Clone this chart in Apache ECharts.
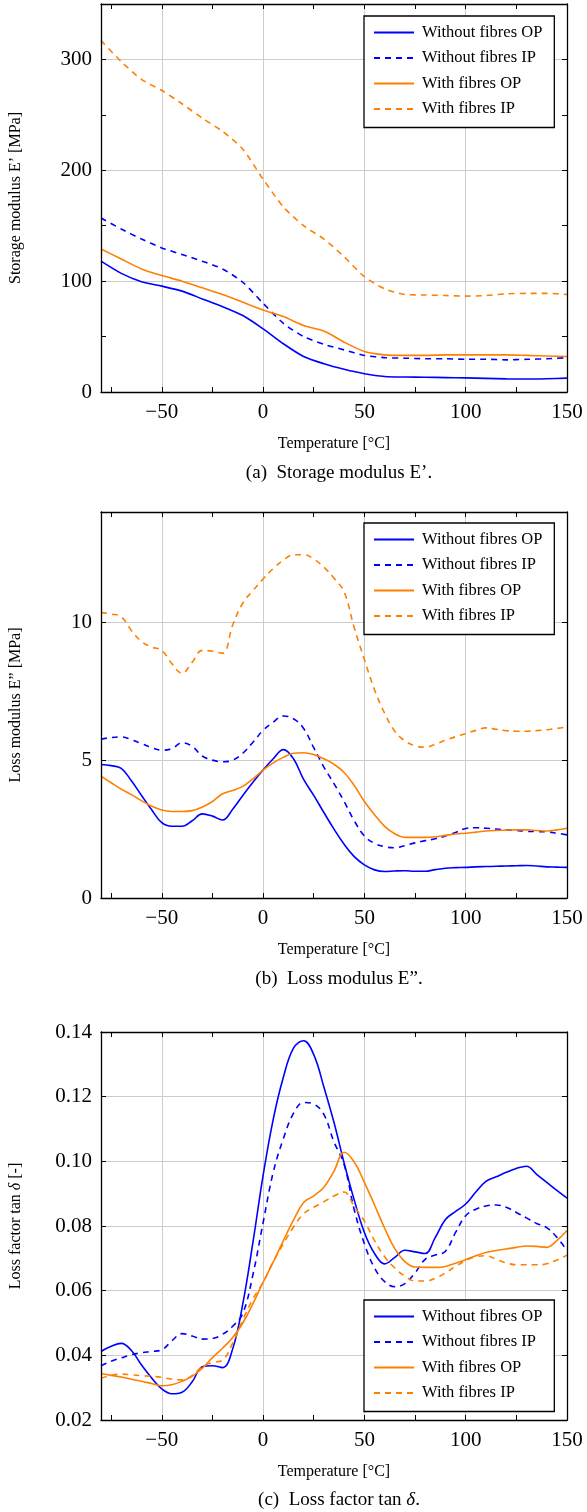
<!DOCTYPE html>
<html><head><meta charset="utf-8">
<script src="https://cdn.jsdelivr.net/npm/echarts@6/dist/echarts.min.js"></script>
<style>html,body{margin:0;padding:0;background:#fff}#c{width:587px;height:1512px}</style>
</head><body><div id="c"></div>
<script>
const seriesNames = ['Without fibres OP', 'Without fibres IP', 'With fibres OP', 'With fibres IP'];

// (a) storage modulus, temperatures every 10 °C
const tempA = [-80,-70,-60,-50,-40,-30,-20,-10,0,10,20,30,40,50,60,70,80,90,100,110,120,130,140,150];
const storageWithoutOP = [118,107,99.5,95.5,91,84,77,69,57,43.5,32,25.5,20.5,16.5,14,13.5,13.3,13,12.7,12.3,11.8,11.7,12,12.5];
const storageWithoutIP = [157,147,138,130,124,118,111,99,80,62,50,43,38,33,31,30.5,30,30,29.5,29.5,29,29.5,30,31];
const storageWithOP = [129,120,111,105,100,94,88,81,74,68,60,55,45,36.5,33.5,33,33,33.5,33.5,33.5,33.5,33,32.5,32];
const storageWithIP = [317,298,282,272,260,247,235,219,192,167,150,138,122,104,93,88,87.5,87,86.5,87,88.5,89,89,88];

// (b), (c) temperatures every 5 °C
const tempB = [-80,-75,-70,-65,-60,-55,-50,-45,-40,-35,-30,-25,-20,-15,-10,-5,0,5,10,15,20,25,30,35,40,45,50,55,60,65,70,75,80,85,90,95,100,105,110,115,120,125,130,135,140,145,150];
const lossWithoutOP = [4.84,4.8,4.7,4.25,3.72,3.2,2.73,2.6,2.6,2.8,3.05,2.97,2.83,3.22,3.72,4.2,4.64,5.05,5.38,5.05,4.3,3.72,3.1,2.5,1.95,1.5,1.2,1.02,0.96,0.98,0.99,0.97,0.97,1.03,1.08,1.1,1.11,1.13,1.14,1.15,1.16,1.17,1.18,1.16,1.13,1.12,1.11];
const lossWithoutIP = [5.76,5.82,5.84,5.74,5.6,5.45,5.36,5.42,5.63,5.5,5.15,5.0,4.94,5.0,5.25,5.65,6.08,6.38,6.6,6.5,6.15,5.45,4.75,4.15,3.5,2.8,2.25,1.98,1.86,1.82,1.9,2.0,2.08,2.15,2.25,2.38,2.52,2.55,2.53,2.5,2.47,2.45,2.42,2.41,2.4,2.35,2.29];
const lossWithOP = [4.42,4.18,3.95,3.75,3.53,3.33,3.19,3.14,3.14,3.17,3.3,3.5,3.78,3.9,4.05,4.32,4.64,4.9,5.1,5.25,5.27,5.2,5.05,4.85,4.55,4.08,3.5,3.02,2.6,2.33,2.2,2.2,2.2,2.22,2.27,2.32,2.35,2.39,2.43,2.45,2.46,2.47,2.47,2.45,2.43,2.47,2.53];
const lossWithIP = [10.35,10.3,10.2,9.7,9.3,9.1,8.98,8.5,8.15,8.55,8.98,8.95,8.88,9.9,10.7,11.15,11.57,11.95,12.25,12.45,12.45,12.3,12.0,11.6,11.1,9.8,8.65,7.55,6.7,6.05,5.7,5.52,5.47,5.58,5.72,5.85,5.96,6.08,6.17,6.12,6.07,6.05,6.05,6.07,6.1,6.15,6.2];
const tanWithoutOP = [0.0412,0.0428,0.0437,0.0415,0.037,0.033,0.0296,0.0281,0.0286,0.0318,0.0365,0.0368,0.0362,0.042,0.056,0.075,0.0956,0.113,0.126,0.135,0.1373,0.133,0.123,0.112,0.0995,0.088,0.078,0.0715,0.0683,0.0703,0.0725,0.072,0.0715,0.0765,0.082,0.0845,0.0868,0.0905,0.0938,0.0952,0.0966,0.0978,0.0985,0.096,0.0935,0.091,0.0886];
const tanWithoutIP = [0.0368,0.0382,0.0392,0.0402,0.0408,0.0412,0.0417,0.0445,0.0467,0.046,0.045,0.0452,0.0465,0.049,0.053,0.065,0.081,0.0966,0.107,0.1148,0.1182,0.1177,0.1145,0.106,0.099,0.085,0.0745,0.067,0.0628,0.0612,0.0622,0.0655,0.0697,0.071,0.0722,0.078,0.0832,0.0852,0.0862,0.0865,0.0858,0.0842,0.0825,0.0808,0.0795,0.0765,0.0724];
const tanWithOP = [0.0344,0.0338,0.0333,0.0326,0.032,0.0313,0.0306,0.0309,0.032,0.0335,0.036,0.0393,0.0422,0.0455,0.05,0.056,0.0626,0.0688,0.0755,0.0818,0.0873,0.0893,0.092,0.097,0.1028,0.0998,0.0935,0.0865,0.0793,0.073,0.069,0.0673,0.0672,0.0672,0.0675,0.0685,0.0696,0.0708,0.0718,0.0724,0.0729,0.0734,0.0738,0.0737,0.0734,0.0755,0.0786];
const tanWithIP = [0.0329,0.0338,0.0342,0.034,0.0337,0.0335,0.0332,0.0326,0.0324,0.0338,0.0365,0.0378,0.0385,0.0438,0.051,0.0575,0.0625,0.069,0.0745,0.0797,0.0838,0.0858,0.0875,0.0893,0.0905,0.086,0.0815,0.0755,0.0705,0.067,0.0645,0.063,0.063,0.0638,0.0655,0.0675,0.0693,0.0705,0.0708,0.0697,0.0686,0.068,0.068,0.068,0.0683,0.0695,0.071];

// tick labels
const xTickLabels = [-50, 0, 50, 100, 150];
const xTicksAll = [-75, -50, -25, 0, 25, 50, 75, 100, 125, 150];
const yTickLabelsA = [0, 100, 200, 300];
const yTicksAllA = [0, 50, 100, 150, 200, 250, 300];
const yTickLabelsB = [0, 5, 10];
const yTickLabelsC = [0.02, 0.04, 0.06, 0.08, 0.10, 0.12, 0.14];

const F = 'Liberation Serif';
const BLUE = '#0000ff', ORANGE = '#ff8000';
const DASH = [6, 5];

const panels = [
  {top: 4, height: 388, yMin: 0, yMax: 350, yLabels: yTickLabelsA, yTicks: yTicksAllA, yFmt: v => String(v),
   yName: 'Storage modulus E\u2019 [MPa]', caption: '(a)  Storage modulus E\u2019.', capY: 468, legendTop: 16,
   x: tempA, data: [storageWithoutOP, storageWithoutIP, storageWithOP, storageWithIP], smooth: 0.25},
  {top: 512, height: 386, yMin: 0, yMax: 14, yLabels: yTickLabelsB, yTicks: yTickLabelsB, yFmt: v => String(v),
   yName: 'Loss modulus E\u201d [MPa]', caption: '(b)  Loss modulus E\u201d.', capY: 974, legendTop: 523,
   x: tempB, data: [lossWithoutOP, lossWithoutIP, lossWithOP, lossWithIP], smooth: 0.4},
  {top: 1032, height: 388, yMin: 0.02, yMax: 0.14, yLabels: yTickLabelsC, yTicks: yTickLabelsC, yFmt: v => v.toFixed(2),
   yName: 'Loss factor tan {i|\u03b4} [-]', caption: '(c)  Loss factor tan {i|\u03b4}.', capY: 1495, legendTop: 1300,
   x: tempB, data: [tanWithoutOP, tanWithoutIP, tanWithOP, tanWithIP], smooth: 0.4}
];

const grid = [], xAxis = [], yAxis = [], series = [], title = [], legend = [];
const frameLine = {show: true, onZero: false, lineStyle: {color: '#000', width: 1.3}};
const tickStyle = {color: '#000', width: 1};
const gridLine = {show: true, lineStyle: {color: '#cccccc', width: 1}};

panels.forEach((p, g) => {
  grid.push({left: 101, width: 466, top: p.top, height: p.height, containLabel: false});
  // x axes
  xAxis.push({gridIndex: g, type: 'value', min: -80, max: 150, position: 'bottom', z: 0,
    axisLine: {show: false, onZero: false}, axisTick: {show: false, customValues: xTickLabels},
    axisLabel: {customValues: xTickLabels, fontFamily: F, fontSize: 21, color: '#000', margin: 10,
      formatter: v => String(v).replace('-', '\u2212')},
    splitLine: gridLine,
    name: 'Temperature [\u00b0C]', nameLocation: 'middle', nameGap: 44,
    nameTextStyle: {fontFamily: F, fontSize: 16, color: '#000'}});
  xAxis.push({gridIndex: g, type: 'value', min: -80, max: 150, position: 'bottom', z: 5,
    axisLine: frameLine, axisTick: {show: true, inside: true, length: 5, customValues: xTicksAll, lineStyle: tickStyle},
    axisLabel: {show: false}, splitLine: {show: false}});
  xAxis.push({gridIndex: g, type: 'value', min: -80, max: 150, position: 'top', z: 5,
    axisLine: frameLine, axisTick: {show: true, inside: true, length: 5, customValues: xTicksAll, lineStyle: tickStyle},
    axisLabel: {show: false}, splitLine: {show: false}});
  // y axes
  yAxis.push({gridIndex: g, type: 'value', min: p.yMin, max: p.yMax, position: 'left', z: 0,
    axisLine: {show: false, onZero: false}, axisTick: {show: false, customValues: p.yLabels},
    axisLabel: {customValues: p.yLabels, fontFamily: F, fontSize: 21, color: '#000', margin: 9, formatter: p.yFmt},
    splitLine: gridLine,
    name: p.yName, nameLocation: 'middle', nameGap: 77,
    nameTextStyle: {fontFamily: F, fontSize: 16, color: '#000',
      rich: {i: {fontFamily: F, fontSize: 16, fontStyle: 'italic', color: '#000'}}}});
  yAxis.push({gridIndex: g, type: 'value', min: p.yMin, max: p.yMax, position: 'left', z: 5,
    axisLine: frameLine, axisTick: {show: true, inside: true, length: 5, customValues: p.yTicks, lineStyle: tickStyle},
    axisLabel: {show: false}, splitLine: {show: false}});
  yAxis.push({gridIndex: g, type: 'value', min: p.yMin, max: p.yMax, position: 'right', z: 5,
    axisLine: frameLine, axisTick: {show: true, inside: true, length: 5, customValues: p.yTicks, lineStyle: tickStyle},
    axisLabel: {show: false}, splitLine: {show: false}});

  p.data.forEach((vals, k) => {
    series.push({
      name: seriesNames[k], type: 'line', xAxisIndex: 3 * g, yAxisIndex: 3 * g,
      data: p.x.map((t, i) => [t, vals[i]]),
      symbol: 'none', showSymbol: false, smooth: p.smooth, z: 2,
      lineStyle: {color: k < 2 ? BLUE : ORANGE, width: 1.6, type: (k % 2 === 1) ? DASH : 'solid'},
      itemStyle: {color: k < 2 ? BLUE : ORANGE},
      emphasis: {disabled: true}
    });
  });

  title.push({text: p.caption, left: 334, top: p.capY, textAlign: 'center', textVerticalAlign: 'middle',
    textStyle: {fontFamily: F, fontSize: 19, fontWeight: 'normal', color: '#000',
      rich: {i: {fontFamily: F, fontSize: 19, fontStyle: 'italic', color: '#000'}}}});

  legend.push({left: 364, top: p.legendTop, orient: 'vertical', data: seriesNames,
    itemWidth: 40, itemHeight: 16, itemGap: 8.5, padding: [8, 12, 10, 9],
    backgroundColor: '#fff', borderColor: '#000', borderWidth: 1.3, borderRadius: 0,
    selectedMode: false, z: 8,
    itemStyle: {opacity: 0, borderWidth: 0},
    textStyle: {fontFamily: F, fontSize: 16.5, color: '#000', padding: [0, 0, 0, 3]}});
});

const chart = echarts.init(document.getElementById('c'), null, {renderer: 'canvas'});
chart.setOption({animation: false, backgroundColor: '#fff', grid, xAxis, yAxis, series, title, legend});
</script>
</body></html>
